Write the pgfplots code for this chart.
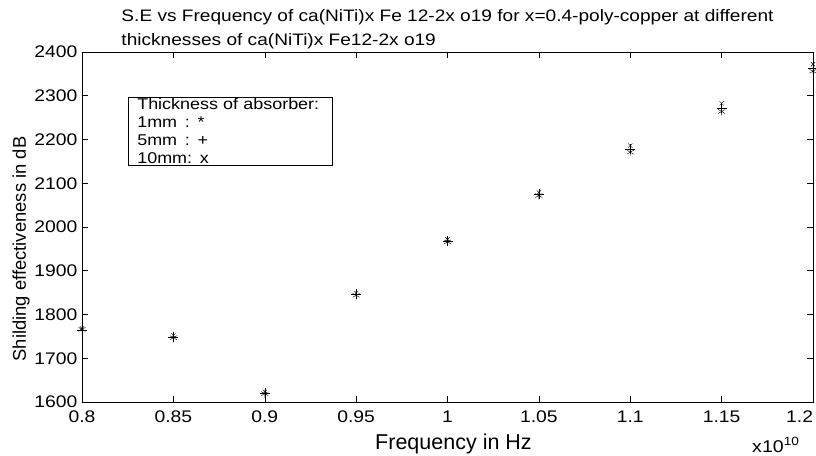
\documentclass[border=0pt]{standalone}
\usepackage{pgfplots}
\pgfplotsset{compat=1.18}
\usepackage{fontspec}
\setmainfont{Liberation Sans}
\newfontfamily\wide{Liberation Sans}[FakeStretch=1.15]
\begin{document}
\begin{tikzpicture}
\begin{axis}[
  name=ax,
  scale only axis, width=731pt, height=350pt,
  xmin=0.8, xmax=1.2, ymin=1600, ymax=2400,
  xtick={0.8,0.85,...,1.21}, ytick={1600,1700,...,2400},
  xticklabels={0.8,0.85,0.9,0.95,1,1.05,1.1,1.15,\makebox[0pt][r]{1.2}},
  tick align=inside, tick style={black, line width=0.5pt}, major tick length=6pt,
  axis line style={line width=0.8pt},
  /pgf/number format/assume math mode=true,
  ticklabel style={font=\wide\fontsize{16.8}{19}\selectfont},
  yticklabel style={/pgf/number format/1000 sep={}, xshift=-1pt},
  xticklabel style={yshift=-5pt},
  xlabel={Frequency in Hz}, ylabel={Shilding effectiveness in dB},
  xlabel style={font=\fontsize{21.5}{24}\selectfont, at={(axis description cs:0.5,0)}, anchor=base, yshift=-47pt, xshift=6pt},
  ylabel style={font=\fontsize{18.4}{21}\selectfont, yshift=-2pt, xshift=-22pt},
  title={S.E vs Frequency of ca(NiTi)x Fe 12-2x o19 for x=0.4-poly-copper at different\\thicknesses of ca(NiTi)x Fe12-2x o19},
  title style={font=\wide\fontsize{16.6}{24}\selectfont, align=left, yshift=-6pt},
  clip=false,
]
\addplot[only marks, mark=asterisk, mark size=4pt, black] coordinates {
(0.8,1766)(0.85,1747)(0.9,1619)(0.95,1844)(1.0,1966)(1.05,2072)(1.1,2171)(1.15,2264)(1.2,2356)};
\addplot[only marks, mark=+, mark size=5pt, black] coordinates {
(0.8,1765)(0.85,1749)(0.9,1621)(0.95,1846)(1.0,1968)(1.05,2075)(1.1,2178)(1.15,2271)(1.2,2363)};
\addplot[only marks, mark=x, mark size=3pt, black] coordinates {
(0.8,1768)(0.85,1752)(0.9,1623)(0.95,1849)(1.0,1972)(1.05,2079)(1.1,2186)(1.15,2283)(1.2,2372)};
\node[draw=black, line width=0.5pt, fill=white, anchor=north west, align=left, inner xsep=9pt, inner ysep=1.5pt,
  font=\wide\fontsize{15.6}{18}\selectfont, text width=186pt] at (axis cs:0.8252,2298)
  {Thickness of absorber:\\1mm\enspace: *\\5mm\enspace: +\\10mm: x};
\end{axis}
\node[anchor=base east, font=\wide\fontsize{17}{19}\selectfont] at ([xshift=-10pt,yshift=-50pt]ax.south east) {x10\textsuperscript{10}};
\pgfresetboundingbox
\path ([xshift=-82pt,yshift=-53pt]ax.south west) rectangle ([xshift=3pt,yshift=52pt]ax.north east);
\end{tikzpicture}
\end{document}
